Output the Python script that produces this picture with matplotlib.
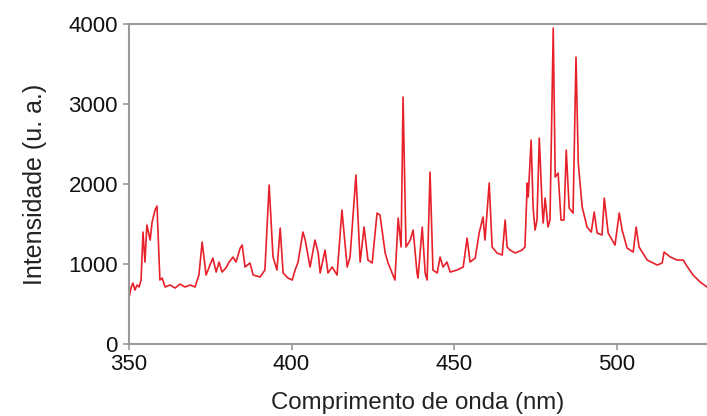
import numpy as np
import matplotlib.pyplot as plt

plt.rcParams['font.family'] = ['Liberation Sans', 'DejaVu Sans']

# Espectro de emissao (comprimento de onda em nm, intensidade em u. a.)
wl = [350.0, 350.6, 351.2, 351.8, 352.5, 353.1, 353.7, 354.3, 354.9, 355.5,
      356.5, 357.1, 358.0, 358.6, 359.5, 360.2, 361.1, 362.6, 364.2, 365.7,
      367.2, 368.8, 370.3, 371.5, 372.5, 373.7, 374.9, 375.8, 376.8, 377.7,
      378.6, 379.8, 380.8, 382.0, 382.9, 384.2, 384.8, 385.7, 387.2, 388.2,
      390.3, 391.8, 393.1, 394.3, 395.5, 396.5, 397.4, 398.9, 400.2, 401.1,
      402.0, 403.5, 404.2, 405.7, 407.2, 408.2, 408.8, 410.3, 411.2, 412.5,
      414.0, 415.5, 417.1, 418.0, 419.8, 421.1, 422.3, 423.5, 424.8, 426.3,
      427.2, 428.8, 429.7, 431.8, 432.8, 433.7, 434.3, 435.2, 436.5, 437.4,
      438.6, 438.9, 440.2, 441.1, 441.7, 442.6, 443.5, 444.8, 445.7, 446.6,
      447.8, 448.8, 450.9, 452.8, 454.0, 454.9, 456.5, 457.7, 458.9, 459.5,
      460.8, 461.7, 463.2, 464.8, 465.7, 466.3, 467.2, 468.8, 470.9, 471.8,
      472.5, 472.8, 473.7, 474.3, 474.9, 475.5, 476.2, 477.1, 477.4, 478.0,
      478.9, 479.5, 480.5, 481.1, 482.0, 482.9, 483.8, 484.5, 485.4, 486.6,
      487.5, 488.2, 489.4, 490.9, 492.2, 493.1, 494.0, 495.5, 496.2, 497.4,
      499.5, 500.8, 501.7, 503.2, 505.1, 506.0, 506.9, 509.4, 512.5, 514.0,
      514.6, 516.5, 518.6, 520.5, 521.4, 523.5, 525.7, 527.8]
intensidade = [575, 700, 763, 675, 738, 713, 800, 1400, 1025, 1488,
               1300, 1525, 1675, 1725, 800, 825, 713, 738, 700, 750,
               713, 738, 713, 863, 1275, 863, 988, 1075, 900, 1025,
               900, 950, 1025, 1088, 1025, 1200, 1238, 963, 1013, 863,
               838, 925, 1988, 1088, 925, 1450, 888, 825, 800, 925,
               1025, 1400, 1300, 963, 1300, 1138, 888, 1175, 888, 963,
               863, 1675, 963, 1088, 2113, 1025, 1463, 1050, 1013, 1638,
               1613, 1138, 1013, 800, 1575, 1213, 3088, 1213, 1300, 1425,
               888, 825, 1463, 888, 800, 2150, 925, 888, 1088, 963,
               1025, 900, 925, 963, 1325, 1025, 1075, 1388, 1588, 1300,
               2013, 1213, 1138, 1113, 1550, 1213, 1175, 1138, 1175, 1213,
               2013, 1838, 2550, 1713, 1425, 1550, 2575, 1713, 1513, 1825,
               1463, 1550, 3950, 2088, 2138, 1550, 1550, 2425, 1700, 1638,
               3588, 2263, 1713, 1463, 1400, 1650, 1388, 1363, 1825, 1388,
               1238, 1638, 1425, 1200, 1150, 1463, 1213, 1050, 988, 1013,
               1150, 1088, 1050, 1050, 988, 863, 775, 713]

xticks = [350, 400, 450, 500]
yticks = [0, 1000, 2000, 3000, 4000]

fig = plt.figure(figsize=(7.07, 4.16), dpi=100)
ax = fig.add_axes([0.1825, 0.173, 0.8175, 0.769])
ax.plot(wl, intensidade, color='#e8202a', lw=1.2)

ax.set_xlim(350, 527.8)
ax.set_ylim(0, 4000)
ax.set_xticks(xticks)
ax.set_yticks(yticks)

for s in ['left', 'bottom', 'top']:
    ax.spines[s].set_color('#9a9a9a')
    ax.spines[s].set_linewidth(1.5)
ax.spines['right'].set_visible(False)
ax.tick_params(axis='both', colors='#9a9a9a', labelcolor='#111111',
               labelsize=16, length=4, width=1.2)
ax.tick_params(axis='x', pad=3.5)
ax.tick_params(axis='y', pad=4)

ax.set_xlabel('Comprimento de onda (nm)', fontsize=17.3, color='#222222', labelpad=12)
ax.set_ylabel('Intensidade (u. a.)', fontsize=18, color='#222222', labelpad=15)

fig.savefig('out.png', dpi=100)
